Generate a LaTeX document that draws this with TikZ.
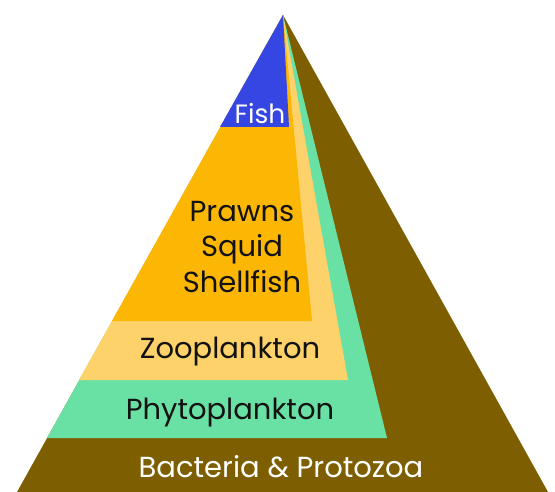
\documentclass[tikz,border=0pt]{standalone}
\usepackage{fontspec}
\setmainfont{Poppins}
\usepackage{xcolor}
\usetikzlibrary{calc}
\definecolor{bactbrown}{RGB}{125,94,0}
\definecolor{phytogreen}{RGB}{105,225,164}
\definecolor{zooyellow}{RGB}{253,210,106}
\definecolor{prawnorange}{RGB}{252,182,4}
\definecolor{fishblue}{RGB}{54,70,227}
\tikzset{
  pyrlayer/.style = {draw=none},
  pyrlbl/.style   = {anchor=base, align=center, inner sep=0pt, text=black!93,
                     font=\fontsize{29}{35.5}\selectfont},
  pyrsmall/.style = {pyrlbl, font=\fontsize{26.5}{35}\selectfont},
  pyrwhite/.style = {text=white},
}

\begin{document}
\begin{tikzpicture}[x=1pt,y=-1pt]
  \useasboundingbox (0,0) rectangle (555,492);
  \coordinate (apex) at (283,15);
  % layers, widest first
  \fill[pyrlayer, bactbrown]   (apex) -- (548,492) -- (17,492) -- cycle;
  \fill[pyrlayer, phytogreen]  (apex) -- (387,438) -- (47,438) -- cycle;
  \fill[pyrlayer, zooyellow]   (apex) -- (348,380) -- (79,380) -- cycle;
  \fill[pyrlayer, prawnorange] (apex) -- (312,321) -- (112,321) -- cycle;
  \fill[pyrlayer, fishblue]    (apex) -- (289,127) -- (220,127) -- cycle;

  \node[pyrsmall, pyrwhite] (fish)  at (260,124) {Fish};
  % base of a multi-line node sits on its last line
  \node[pyrlbl]             (prawn) at (242,292) {Prawns\\Squid\\Shellfish};
  \node[pyrlbl]             (zoo)   at (230,359) {Zooplankton};
  \node[pyrlbl]             (phyto) at (230,419) {Phytoplankton};
  \node[pyrlbl, pyrwhite]   (bact)  at (281,477) {Bacteria \& Protozoa};
\end{tikzpicture}
\end{document}
